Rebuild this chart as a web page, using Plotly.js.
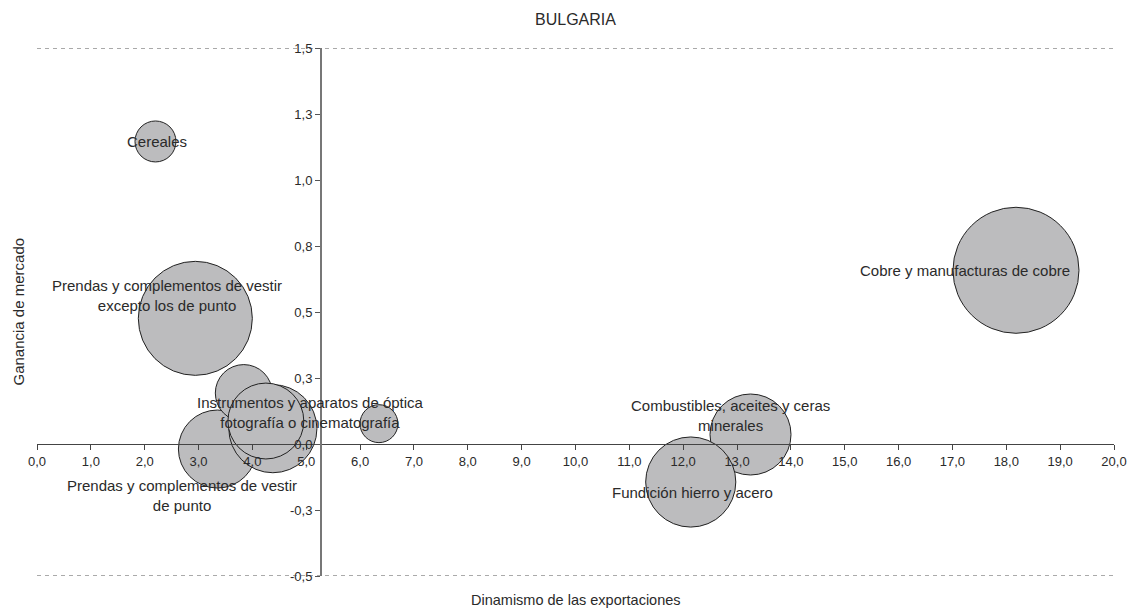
<!DOCTYPE html>
<html>
<head>
<meta charset="utf-8">
<script src="https://cdn.plot.ly/plotly-3.0.1.min.js"></script>
<style>html,body{margin:0;padding:0;background:#fff;}#chart{width:1127px;height:610px;}</style>
</head>
<body>
<div id="chart"></div>
<script>
// Data (draw order)
var productos = ["Cereales", "Prendas y complementos de vestir excepto los de punto", "Prendas y complementos de vestir de punto", "Producto A", "Producto B", "Instrumentos y aparatos de óptica fotografía o cinematografía", "Producto C", "Combustibles, aceites y ceras minerales", "Fundición hierro y acero", "Cobre y manufacturas de cobre"];
var dinamismo = [2.20, 2.94, 3.35, 3.84, 4.38, 4.25, 6.35, 13.25, 12.14, 18.18];
var ganancia  = [1.146, 0.476, -0.019, 0.193, 0.058, 0.087, 0.077, 0.036, -0.144, 0.658];
var peso      = [0.42, 3.25, 1.52, 0.81, 1.94, 1.44, 0.36, 1.64, 2.03, 3.97];
var etiquetas = ["Cereales", "Prendas y complementos de vestir<br>excepto los de punto", "Prendas y complementos de vestir<br>de punto", "", "", "Instrumentos y aparatos de óptica<br>fotografía o cinematografía", "", "Combustibles, aceites y ceras<br>minerales", "Fundición hierro y acero", "Cobre y manufacturas de cobre"];
var xTickVals = [0,1,2,3,4,5,6,7,8,9,10,11,12,13,14,15,16,17,18,19,20];
var xTickText = ["0,0","1,0","2,0","3,0","4,0","5,0","6,0","7,0","8,0","9,0","10,0","11,0","12,0","13,0","14,0","15,0","16,0","17,0","18,0","19,0","20,0"];
var yTickVals = [-0.5,-0.25,0,0.25,0.5,0.75,1.0,1.25,1.5];
var yTickText = ["-0,5","-0,3","0,0","0,3","0,5","0,8","1,0","1,3","1,5"];

// label offsets in px (layout styling)
var labelShift = [[2,0],[-28,23],[-35,-46],[0,0],[0,0],[45,9],[0,0],[-20,19],[2,-10],[-51,0]];

var font = "Liberation Sans, Arial, Helvetica, sans-serif";
var txtColor = "#2a2a2a";

var trace = {
  type: "scatter", mode: "markers",
  x: dinamismo, y: ganancia, text: productos,
  marker: {size: peso, sizemode: "area", sizeref: 0.0005, color: "#bcbcbe", opacity: 1,
           line: {color: "#222", width: 1}},
  hoverinfo: "text", cliponaxis: false
};

var annotations = [];
for (var i = 0; i < etiquetas.length; i++) {
  if (!etiquetas[i]) continue;
  annotations.push({x: dinamismo[i], y: ganancia[i], xref: "x", yref: "y", text: etiquetas[i],
    showarrow: false, xanchor: "center", yanchor: "middle", xshift: labelShift[i][0], yshift: labelShift[i][1],
    font: {family: font, size: 15, color: txtColor}, align: "center"});
}
annotations.push({text: "Ganancia de mercado", xref: "paper", yref: "paper", x: -0.0181, y: 0.5, textangle: -90,
  showarrow: false, xanchor: "center", yanchor: "middle", font: {family: font, size: 15, color: txtColor}});
annotations.push({text: "Dinamismo de las exportaciones", xref: "paper", yref: "paper", x: 0.5, y: -0.045,
  showarrow: false, xanchor: "center", yanchor: "middle", font: {family: font, size: 14.5, color: txtColor}});

var layout = {
  width: 1127, height: 610,
  margin: {l: 37, r: 13, t: 48, b: 34, pad: 0},
  paper_bgcolor: "#fff", plot_bgcolor: "#fff",
  showlegend: false,
  title: {text: "BULGARIA", x: 0.5, xref: "paper", y: 0.969, yref: "container", yanchor: "middle",
          font: {family: font, size: 16, color: txtColor}},
  xaxis: {range: [0, 20], anchor: "free", position: 0.25, showgrid: false, zeroline: false,
          showline: true, linecolor: "#444", linewidth: 1, ticks: "outside", ticklen: 5, tickcolor: "#444",
          tickvals: xTickVals, ticktext: xTickText, tickfont: {family: font, size: 13, color: txtColor}},
  yaxis: {range: [-0.5, 1.5], anchor: "free", position: 0.2628, showgrid: false, zeroline: false,
          showline: true, linecolor: "#777", linewidth: 1.5, ticks: "outside", ticklen: 5, tickcolor: "#555",
          tickvals: yTickVals, ticktext: yTickText, tickfont: {family: font, size: 13, color: txtColor}},
  shapes: [
    {type: "line", xref: "paper", yref: "y", x0: 0, x1: 1, y0: 1.5, y1: 1.5, line: {color: "#555", width: 1, dash: "4px,4px"}, layer: "below"},
    {type: "line", xref: "paper", yref: "y", x0: 0, x1: 1, y0: -0.5, y1: -0.5, line: {color: "#555", width: 1, dash: "4px,4px"}, layer: "below"}
  ],
  annotations: annotations
};

Plotly.newPlot("chart", [trace], layout, {displayModeBar: false, staticPlot: true});
</script>
</body>
</html>
